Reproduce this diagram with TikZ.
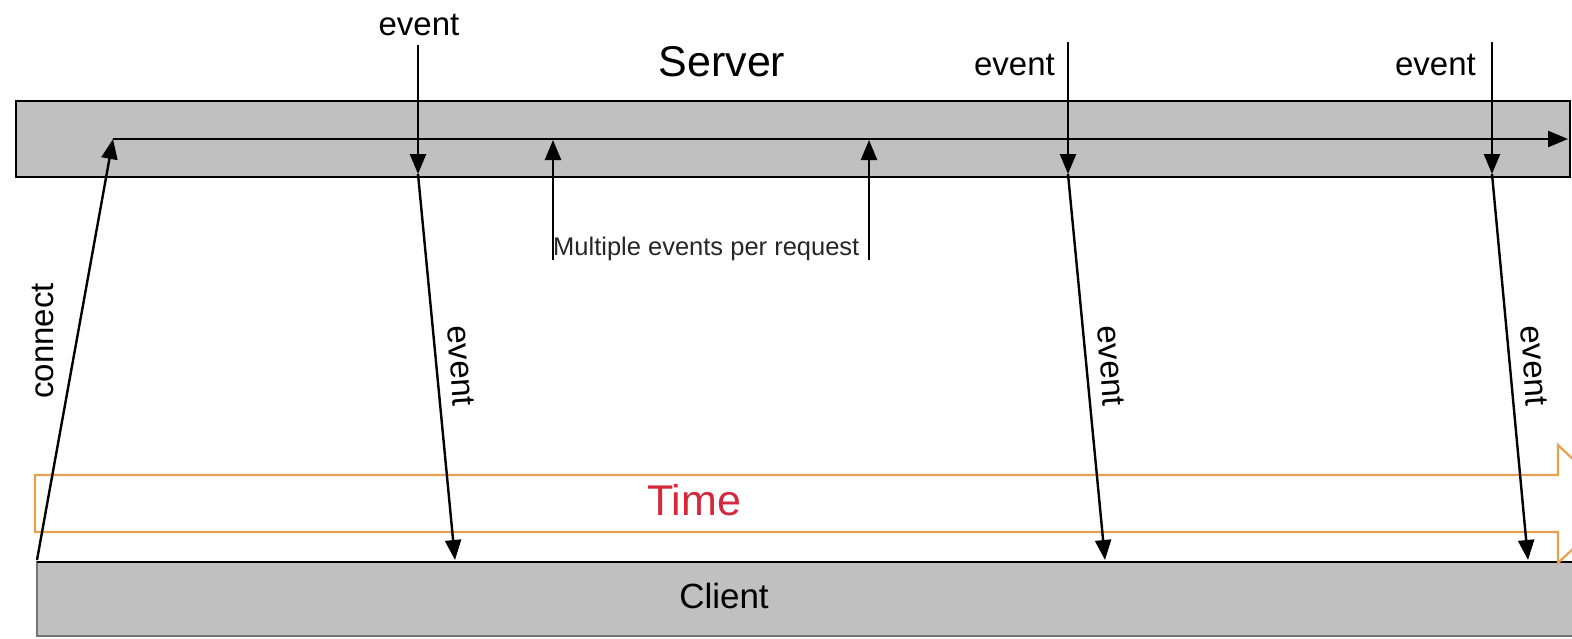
\documentclass[tikz,border=0pt]{standalone}
\usepackage{fontspec}
\setmainfont{Liberation Sans}
\usetikzlibrary{arrows.meta}
\definecolor{boxgrey}{RGB}{192,192,192}
\definecolor{timeorange}{RGB}{232,160,80}
\definecolor{timered}{RGB}{214,40,60}
\tikzset{
  lane/.style={draw=black, line width=2.8pt, fill=boxgrey},
  msg/.style={draw=black, line width=2.4pt, -{Triangle[length=20pt,width=16pt]}},
  lbl/.style={font=\fontsize{33}{36}\selectfont, inner sep=0pt},
  biglbl/.style={font=\fontsize{43}{46}\selectfont, inner sep=0pt},
  smalllbl/.style={font=\fontsize{25.5}{28}\selectfont, inner sep=0pt, text=black!85}
}
\begin{document}
\begin{tikzpicture}[x=1pt, y=-1pt]
\useasboundingbox (0,0) rectangle (1572,638);
\fill[white] (0,0) rectangle (1572,638);

% lanes
\draw[lane] (16,101) rectangle (1570,177);
\draw[draw=black!55, line width=1.5pt, fill=boxgrey] (37,562) rectangle (1600,636);
\draw[black, line width=2.8pt] (37,562) -- (1600,562);
\node[biglbl] (server) at (722,62) {Server};
\node[lbl, font=\fontsize{35}{38}\selectfont] (client) at (724,596) {Client};

% time band (fat arrow running off to the right)
\draw[timeorange, line width=2.2pt, fill=white]
  (35,475) -- (1558,475) -- (1558,445) -- (1620,504) -- (1558,563)
  -- (1558,532) -- (35,532) -- cycle;
\node[biglbl, text=timered] (time) at (694,500) {Time};

% server timeline
\coordinate (tl0) at (113,139);
\coordinate (tl1) at (1568,139);
\draw[msg] (tl0) -- (tl1);

% connect
\coordinate (c0) at (37,560);
\draw[msg] (c0) -- (tl0);
\node[lbl, rotate=90] (conn) at (43,341) {connect};

% incoming events and their delivery to the client
\coordinate (e1s) at (418,45);  \coordinate (e1m) at (418,174); \coordinate (e1c) at (455,560);
\coordinate (e2s) at (1068,42); \coordinate (e2m) at (1068,174); \coordinate (e2c) at (1105,560);
\coordinate (e3s) at (1492,42); \coordinate (e3m) at (1492,174); \coordinate (e3c) at (1528,560);
\foreach \i in {1,2,3} {
  \draw[msg] (e\i s) -- (e\i m);
  \draw[msg] (e\i m) -- (e\i c);
}
\node[lbl] (ev1) at (419,25) {event};
\node[lbl, anchor=east] (ev2) at (1055,65) {event};
\node[lbl, anchor=east] (ev3) at (1476,65) {event};
\node[lbl, rotate=-86] (ev1r) at (461,366) {event};
\node[lbl, rotate=-86] (ev2r) at (1111,366) {event};
\node[lbl, rotate=-86] (ev3r) at (1534,366) {event};

% multiple events per request
\coordinate (m1b) at (553,260); \coordinate (m1t) at (553,140);
\coordinate (m2b) at (869,260); \coordinate (m2t) at (869,140);
\draw[msg] (m1b) -- (m1t);
\draw[msg] (m2b) -- (m2t);
\node[smalllbl, anchor=west] (multi) at (553,249) {Multiple events per request};
\end{tikzpicture}
\end{document}
